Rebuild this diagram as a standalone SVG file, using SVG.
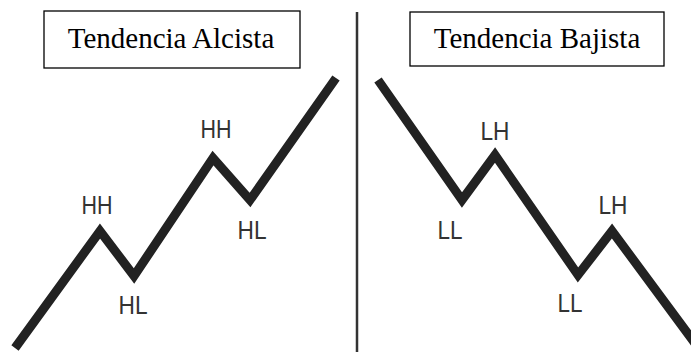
<svg xmlns="http://www.w3.org/2000/svg" width="691" height="352" viewBox="0 0 691 352">
<style>
.box{fill:#fff;stroke:#000;stroke-width:1.3}
.title{font-family:"Liberation Sans",Arial,sans-serif}
.title{font-family:"Liberation Serif","Times New Roman",serif;font-size:29px;fill:#000;text-anchor:middle}
.lbl{font-family:"Liberation Sans",Arial,sans-serif;font-size:25px;fill:#333;text-anchor:middle}
.zz{fill:none;stroke:#222;stroke-width:9;stroke-linejoin:miter;stroke-linecap:butt}
</style>
<rect width="691" height="352" fill="#fff"/>
<g id="title-alcista"><rect class="box" x="44" y="11" width="256" height="57"/><text class="title" x="171" y="48">Tendencia Alcista</text></g>
<g id="title-bajista"><rect class="box" x="410" y="12" width="254" height="54"/><text class="title" x="537" y="48">Tendencia Bajista</text></g>
<g id="connectors">
<line x1="357" y1="12" x2="357" y2="352" stroke="#333" stroke-width="2.5"/>
<polyline class="zz" points="15,348 100,231 134,276 213,158 250,200 336,78"/>
<polyline class="zz" points="378,80 462,200 495,155 578,275 612,231 700,350"/>
</g>
<g id="labels-up">
<text class="lbl" x="97" y="214" textLength="31" lengthAdjust="spacingAndGlyphs">HH</text>
<text class="lbl" x="133" y="314" textLength="29" lengthAdjust="spacingAndGlyphs">HL</text>
<text class="lbl" x="216" y="138" textLength="31" lengthAdjust="spacingAndGlyphs">HH</text>
<text class="lbl" x="252" y="239" textLength="29" lengthAdjust="spacingAndGlyphs">HL</text>
</g>
<g id="labels-down">
<text class="lbl" x="495" y="140" textLength="29" lengthAdjust="spacingAndGlyphs">LH</text>
<text class="lbl" x="450" y="239" textLength="25" lengthAdjust="spacingAndGlyphs">LL</text>
<text class="lbl" x="570" y="312" textLength="25" lengthAdjust="spacingAndGlyphs">LL</text>
<text class="lbl" x="613" y="214" textLength="29" lengthAdjust="spacingAndGlyphs">LH</text>
</g>
</svg>
